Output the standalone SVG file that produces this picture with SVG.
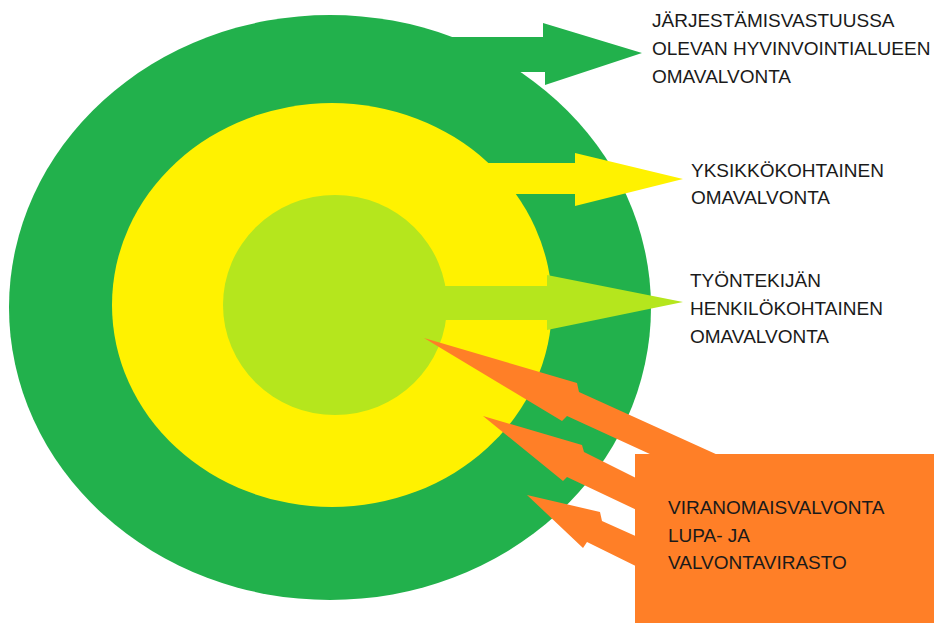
<svg xmlns="http://www.w3.org/2000/svg" width="934" height="623" viewBox="0 0 934 623">
<style>
.lbl{font-family:"Liberation Sans",Arial,sans-serif;font-size:19px;fill:#1a1a1a}
.green{fill:#22b14c}.yellow{fill:#fff200}.lime{fill:#b5e61d}.orange{fill:#ff7f27}
</style>
<rect width="934" height="623" fill="#ffffff"/>
<g id="ring-outer"><ellipse class="green" cx="330" cy="307.5" rx="321" ry="292.5"/></g>
<g id="connector-outer"><polygon class="green" points="440,37 543,37 543,23 642,53 545,85 545,72 440,72"/></g>
<g id="ring-middle"><ellipse class="yellow" cx="332" cy="305" rx="220" ry="202"/></g>
<g id="connectors">
<polygon class="yellow" points="470,163 575,163 575,153 683,179 575,206 575,194 470,194"/>
</g>
<g id="ring-inner"><ellipse class="lime" cx="335" cy="305" rx="112" ry="110"/></g>
<g id="connectors-inner">
<polygon class="lime" points="420,286 547,286 547,275 683,302 547,330 547,320 420,320"/>
<polygon class="orange" points="424,338 577,383 579,392 740,465 700,477 567,416 562,421"/>
<polygon class="orange" points="483,416 582,445 584,452 660,490 660,521 567,477 563,481"/>
<polygon class="orange" points="527,495 600,512 602,521 660,547 660,578 587,542 583,548"/>
</g>
<g id="authority-box">
<rect class="orange" x="635" y="454" width="299" height="169"/>
<text class="lbl" x="668" y="514">VIRANOMAISVALVONTA</text>
<text class="lbl" x="668" y="542">LUPA- JA</text>
<text class="lbl" x="668" y="569">VALVONTAVIRASTO</text>
</g>
<g id="label-outer">
<text class="lbl" x="652" y="27">JÄRJESTÄMISVASTUUSSA</text>
<text class="lbl" x="652" y="55">OLEVAN HYVINVOINTIALUEEN</text>
<text class="lbl" x="652" y="83">OMAVALVONTA</text>
</g>
<g id="label-middle">
<text class="lbl" x="691" y="177">YKSIKKÖKOHTAINEN</text>
<text class="lbl" x="691" y="204">OMAVALVONTA</text>
</g>
<g id="label-inner">
<text class="lbl" x="690" y="287">TYÖNTEKIJÄN</text>
<text class="lbl" x="690" y="315">HENKILÖKOHTAINEN</text>
<text class="lbl" x="690" y="343">OMAVALVONTA</text>
</g>
</svg>
